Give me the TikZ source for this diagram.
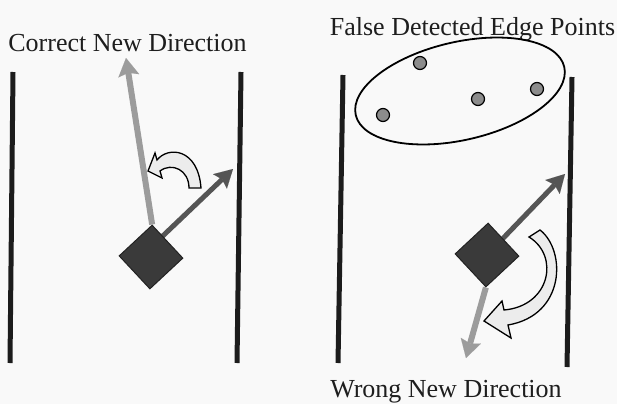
\documentclass[tikz,border=0pt]{standalone}
\usepackage{fontspec}
\setmainfont{Liberation Serif}
\usetikzlibrary{arrows.meta,calc,shapes.geometric,backgrounds}
\definecolor{bgc}{HTML}{F9F9F9}
\definecolor{wallc}{HTML}{1C1C1C}
\definecolor{lightc}{HTML}{9C9C9C}
\definecolor{darkc}{HTML}{555555}
\definecolor{sqc}{HTML}{3A3A3A}
\definecolor{sqline}{HTML}{222222}
\definecolor{dotc}{HTML}{8C8C8C}
\definecolor{curvc}{HTML}{ECECEC}
\definecolor{txtc}{HTML}{1E1E1E}
\begin{document}
\begin{tikzpicture}[x=1pt,y=-1pt,
  wall/.style={line width=5pt, draw=wallc},
  lightarrow/.style={line width=6pt, draw=lightc,
    -{Stealth[length=18pt,width=21pt,inset=3pt,line width=0.01pt,fill=lightc]}},
  darkarrow/.style={line width=5pt, draw=darkc,
    -{Stealth[length=18pt,width=20pt,inset=3pt,line width=0.01pt,fill=darkc]}},
  sqbox/.style={draw=sqline, fill=sqc, line width=1pt, minimum size=45pt, inner sep=0pt, rotate=43},
  dot/.style={circle, draw=black, fill=dotc, line width=1.2pt, minimum size=13pt, inner sep=0pt},
  fpell/.style={ellipse, draw=black, line width=1.8pt, minimum width=214pt, minimum height=98pt, inner sep=0pt, rotate=13},
  curvy/.style={draw=black, fill=curvc, line width=1.3pt, line join=miter},
  lbl/.style={text=txtc, font=\fontsize{26}{30}\selectfont, inner sep=0pt, anchor=base}
]
\useasboundingbox (0,0) rectangle (617,404);

% labels
\node[lbl] (t1) at (127.5,52) {Correct New Direction};
\node[lbl] (t2) at (472.5,35) {False Detected Edge Points};
\node[lbl] (t3) at (446,397) {Wrong New Direction};

% walls
\draw[wall] (13,72) -- (10,363);
\draw[wall] (241,72) -- (237,363);
\draw[wall] (343,75) -- (338,363);
\draw[wall] (572,77) -- (567,367);

% robots
\node[sqbox] (sq1) at (151,257) {};
\node[sqbox] (sq2) at (487,255) {};

% arrow end points
\coordinate (l1t) at (126,58);
\coordinate (d1t) at (233,169);
\coordinate (d1s) at ($(sq1.center)+(-4,-6)$);
\coordinate (l2t) at (466,358);
\coordinate (d2t) at (565,174);

\begin{scope}[on background layer]
  \fill[bgc] (0,0) rectangle (617,404);
  \draw[lightarrow] (sq1.north east) -- (l1t);
  \draw[darkarrow] (d1s) -- (d1t);
  \draw[lightarrow] (sq2.south west) -- (l2t);
  \draw[darkarrow] (sq2.center) -- (d2t);
\end{scope}

% false detected edge points
\node[fpell] (fp) at (460,91) {};
\node[dot] (p1) at (383,115) {};
\node[dot] (p2) at (420,63) {};
\node[dot] (p3) at (478,99) {};
\node[dot] (p4) at (537,89) {};

% turning arrows
\draw[curvy] (148,171) -- (155,153) -- (157,160)
  .. controls (168,146) and (198,148) .. (201,188) -- (189,188)
  .. controls (189,170) and (172,162) .. (160,171) -- (162,178) -- cycle;
\draw[curvy] (484,321) -- (502,301) -- (504,310)
  .. controls (550,306) and (560,256) .. (529,237) -- (540,230)
  .. controls (566,250) and (566,315) .. (508,325) -- (511,338) -- cycle;
\end{tikzpicture}
\end{document}
